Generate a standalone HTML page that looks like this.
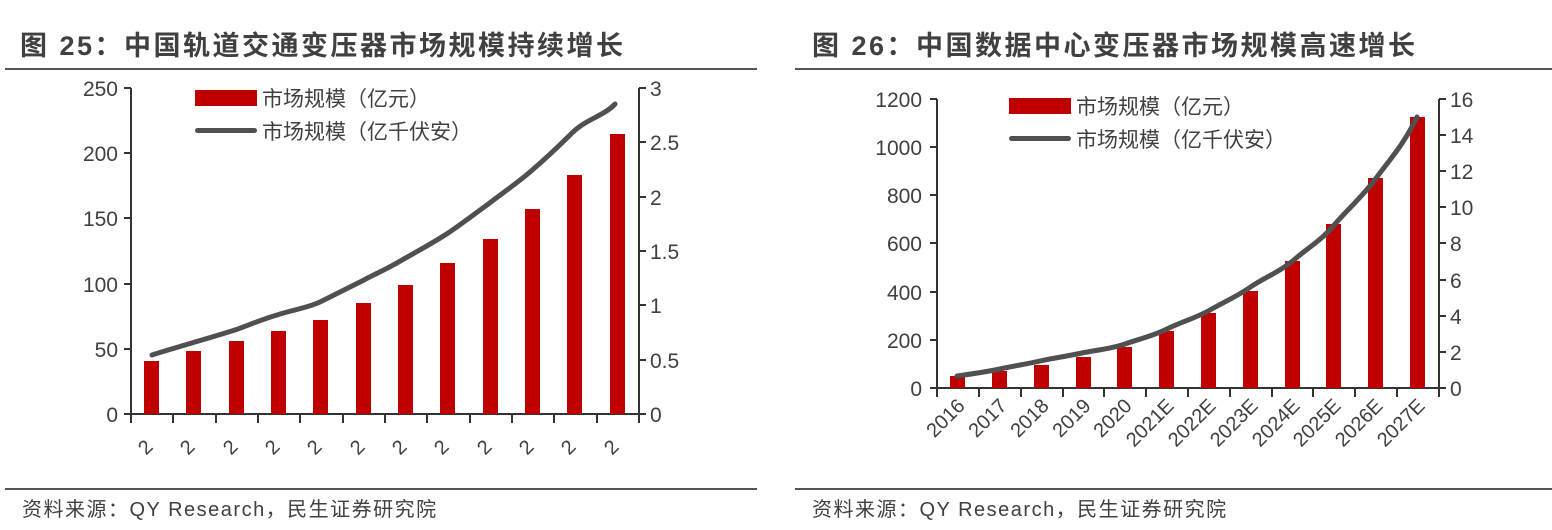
<!DOCTYPE html>
<html><head><meta charset="utf-8"><style>
html,body{margin:0;padding:0;background:#fff;}
svg{display:block;}
text{font-family:"Liberation Sans","Noto Sans CJK SC",sans-serif;fill:#404040;}
</style></head><body>
<svg width="1552" height="530" xmlns="http://www.w3.org/2000/svg">
<!-- Titles -->
<text x="20" y="55" font-size="27" font-weight="bold" fill="#333" letter-spacing="2.5">图 25：中国轨道交通变压器市场规模持续增长</text>
<text x="812" y="55" font-size="27" font-weight="bold" fill="#333" letter-spacing="2.5">图 26：中国数据中心变压器市场规模高速增长</text>
<rect x="5" y="68" width="752" height="2" fill="#555"/>
<rect x="795" y="68" width="757" height="2" fill="#555"/>
<rect x="5" y="488" width="752" height="2" fill="#555"/>
<rect x="795" y="488" width="757" height="2" fill="#555"/>
<text x="22" y="516" font-size="20" letter-spacing="1.5">资料来源：QY Research，民生证券研究院</text>
<text x="812" y="516" font-size="20" letter-spacing="1.5">资料来源：QY Research，民生证券研究院</text>

<!-- LEFT CHART -->
<g stroke="#333" stroke-width="2" fill="none">
<path d="M131 88V414H639V88"/>
<path d="M124 88H131M124 153H131M124 218H131M124 284H131M124 349H131M124 414H131"/>
<path d="M639 88H646M639 142H646M639 197H646M639 251H646M639 305H646M639 360H646M639 414H646"/>
<path d="M131 414v9M173 414v9M216 414v9M258 414v9M300 414v9M343 414v9M385 414v9M427 414v9M470 414v9M512 414v9M554 414v9M597 414v9M639 414v9"/>
</g>
<g font-size="21" text-anchor="end">
<text x="118" y="96">250</text><text x="118" y="161">200</text><text x="118" y="226">150</text>
<text x="118" y="292">100</text><text x="118" y="357">50</text><text x="118" y="422">0</text>
</g>
<g font-size="21">
<text x="650" y="96">3</text><text x="650" y="150">2.5</text><text x="650" y="205">2</text>
<text x="650" y="259">1.5</text><text x="650" y="313">1</text><text x="650" y="368">0.5</text><text x="650" y="422">0</text>
</g>
<g fill="#c00000">
<rect x="144" y="361" width="15" height="53"/>
<rect x="186" y="351" width="15" height="63"/>
<rect x="229" y="341" width="15" height="73"/>
<rect x="271" y="331" width="15" height="83"/>
<rect x="313" y="320" width="15" height="94"/>
<rect x="356" y="303" width="15" height="111"/>
<rect x="398" y="285" width="15" height="129"/>
<rect x="440" y="263" width="15" height="151"/>
<rect x="483" y="239" width="15" height="175"/>
<rect x="525" y="209" width="15" height="205"/>
<rect x="567" y="175" width="15" height="239"/>
<rect x="610" y="134" width="15" height="280"/>
</g>
<path d="M152 355 C167 350,182 346,195 342 C209 338,222 334,235 330 C249 325,263 319,277 315 C292 310,307 308,320 302 C334 295,348 288,362 281 C375 274,389 268,402 260 C416 252,431 244,445 235 C459 226,473 215,487 205 C501 194,516 184,530 172 C544 160,558 147,572 133 C586 119,604 116,615 104" fill="none" stroke="#505050" stroke-width="5" stroke-linecap="round"/>
<g font-size="20" text-anchor="middle">
<text transform="translate(150,452) rotate(-45)">2</text><text transform="translate(192,452) rotate(-45)">2</text>
<text transform="translate(235,452) rotate(-45)">2</text><text transform="translate(277,452) rotate(-45)">2</text>
<text transform="translate(319,452) rotate(-45)">2</text><text transform="translate(362,452) rotate(-45)">2</text>
<text transform="translate(404,452) rotate(-45)">2</text><text transform="translate(446,452) rotate(-45)">2</text>
<text transform="translate(489,452) rotate(-45)">2</text><text transform="translate(531,452) rotate(-45)">2</text>
<text transform="translate(573,452) rotate(-45)">2</text><text transform="translate(616,452) rotate(-45)">2</text>
</g>
<rect x="195" y="90" width="62" height="16" fill="#c00000"/>
<text x="262" y="106" font-size="21">市场规模（亿元）</text>
<rect x="195" y="128" width="62" height="5" rx="2.5" fill="#505050"/>
<text x="262" y="139" font-size="21">市场规模（亿千伏安）</text>

<!-- RIGHT CHART -->
<g stroke="#333" stroke-width="2" fill="none">
<path d="M937 99V388H1439V99"/>
<path d="M930 99H937M930 147H937M930 195H937M930 243H937M930 292H937M930 340H937M930 388H937"/>
<path d="M1439 99H1446M1439 135H1446M1439 171H1446M1439 207H1446M1439 243H1446M1439 280H1446M1439 316H1446M1439 352H1446M1439 388H1446"/>
<path d="M937 388v9M979 388v9M1021 388v9M1063 388v9M1104 388v9M1146 388v9M1188 388v9M1230 388v9M1272 388v9M1313 388v9M1355 388v9M1397 388v9M1439 388v9"/>
</g>
<g font-size="21" text-anchor="end">
<text x="922" y="107">1200</text><text x="922" y="155">1000</text><text x="922" y="203">800</text>
<text x="922" y="251">600</text><text x="922" y="300">400</text><text x="922" y="348">200</text><text x="922" y="396">0</text>
</g>
<g font-size="21">
<text x="1450" y="107">16</text><text x="1450" y="143">14</text><text x="1450" y="179">12</text>
<text x="1450" y="215">10</text><text x="1450" y="251">8</text><text x="1450" y="288">6</text>
<text x="1450" y="324">4</text><text x="1450" y="360">2</text><text x="1450" y="396">0</text>
</g>
<g fill="#c00000">
<rect x="950" y="376" width="15" height="12"/>
<rect x="992" y="371" width="15" height="17"/>
<rect x="1034" y="365" width="15" height="23"/>
<rect x="1076" y="357" width="15" height="31"/>
<rect x="1117" y="347" width="15" height="41"/>
<rect x="1159" y="331" width="15" height="57"/>
<rect x="1201" y="313" width="15" height="75"/>
<rect x="1243" y="291" width="15" height="97"/>
<rect x="1285" y="261" width="15" height="127"/>
<rect x="1326" y="224" width="15" height="164"/>
<rect x="1368" y="178" width="15" height="210"/>
<rect x="1410" y="117" width="15" height="271"/>
</g>
<path d="M957 376 C971 374,986 372,1000 369 C1013 366,1027 364,1040 361 C1054 358,1068 356,1082 353 C1096 350,1111 349,1125 344 C1139 339,1153 336,1167 329 C1181 322,1196 318,1210 310 C1224 302,1238 296,1252 286 C1266 277,1281 271,1295 259 C1309 247,1322 240,1335 224 C1349 208,1363 196,1377 177 C1391 158,1404 144,1417 117" fill="none" stroke="#505050" stroke-width="5" stroke-linecap="round"/>
<g font-size="20" text-anchor="end">
<text transform="translate(966,407) rotate(-45)">2016</text>
<text transform="translate(1008,407) rotate(-45)">2017</text>
<text transform="translate(1050,407) rotate(-45)">2018</text>
<text transform="translate(1092,407) rotate(-45)">2019</text>
<text transform="translate(1133,407) rotate(-45)">2020</text>
<text transform="translate(1175,407) rotate(-45)">2021E</text>
<text transform="translate(1217,407) rotate(-45)">2022E</text>
<text transform="translate(1259,407) rotate(-45)">2023E</text>
<text transform="translate(1301,407) rotate(-45)">2024E</text>
<text transform="translate(1342,407) rotate(-45)">2025E</text>
<text transform="translate(1384,407) rotate(-45)">2026E</text>
<text transform="translate(1426,407) rotate(-45)">2027E</text>
</g>
<rect x="1009" y="98" width="62" height="16" fill="#c00000"/>
<text x="1076" y="114" font-size="21">市场规模（亿元）</text>
<rect x="1009" y="136" width="62" height="5" rx="2.5" fill="#505050"/>
<text x="1076" y="147" font-size="21">市场规模（亿千伏安）</text>
</svg>
</body></html>
